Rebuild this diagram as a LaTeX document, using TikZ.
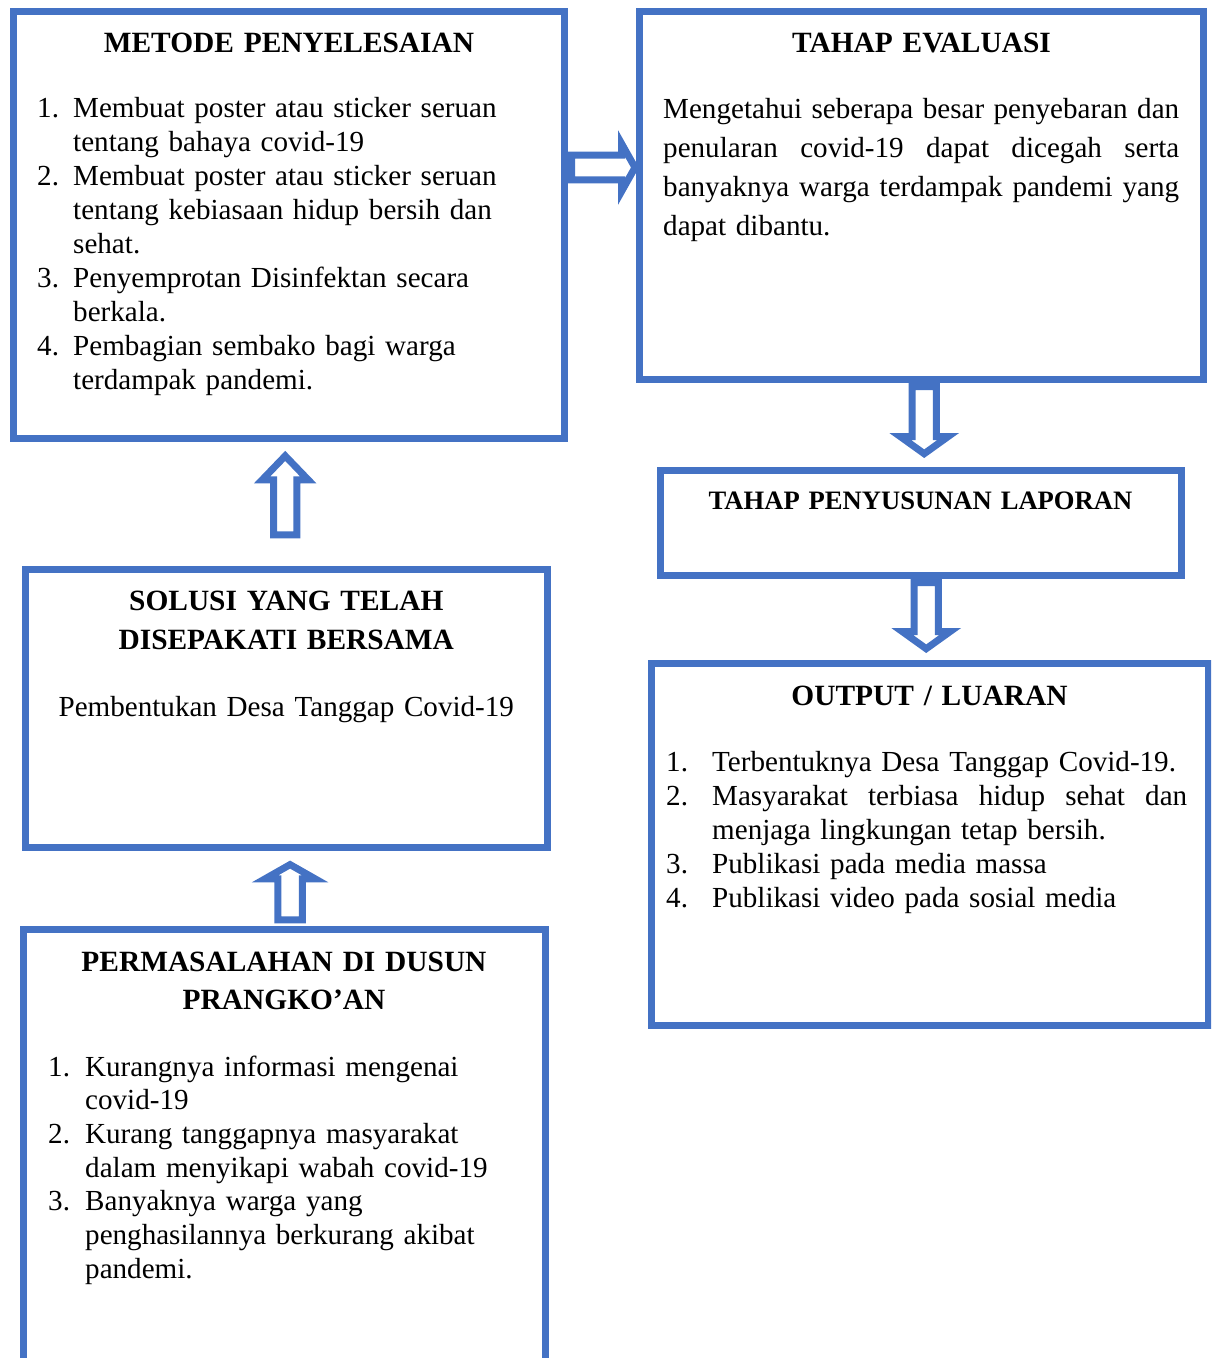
\documentclass[tikz,border=0pt]{standalone}
\usepackage{fontspec}
\setmainfont{Liberation Serif}
\usetikzlibrary{calc}
\definecolor{bblue}{HTML}{4472C4}
\newlength\lind
\newcommand\lnum[1]{\makebox[\lind][l]{#1}}
\newcommand\lcont{\hspace*{\lind}}
\newcommand\just[2]{\makebox[#1][s]{\spaceskip=0.25em plus 1fil\relax #2}}
\newcommand\varrow[5]{\draw[blockarrow] ($(#1)+(-#3,0)$) -- ($(#2)+(-#3,#5)$) -- ($(#2)+(-#4,#5)$) -- (#2) -- ($(#2)+(#4,#5)$) -- ($(#2)+(#3,#5)$) -- ($(#1)+(#3,0)$) -- cycle;}
\begin{document}
\begin{tikzpicture}[x=1pt,y=-1pt,
  box/.style={draw=bblue, line width=7pt, rectangle, inner sep=0pt, outer sep=0pt, anchor=north west},
  blockarrow/.style={draw=bblue, fill=white, line width=7pt, line join=miter, miter limit=20},
  head/.style={font=\fontsize{29.4}{39}\selectfont\bfseries, anchor=base, inner sep=0pt, text width=540pt, align=center},
  body/.style={font=\fontsize{29.1}{34}\selectfont, anchor=base west, inner sep=0pt, text width=540pt, align=left},
]
\useasboundingbox (0,0) rectangle (1211,1358);
\clip (0,0) rectangle (1211,1358);

% boxes
\node[box, minimum width=551pt, minimum height=427pt] (met) at (13.5,11.5) {};
\node[box, minimum width=564pt, minimum height=368pt] (eva) at (639.5,11.5) {};
\node[box, minimum width=521pt, minimum height=105.5pt] (lap) at (660,470) {};
\node[box, minimum width=557pt, minimum height=362pt] (out) at (651,663.5) {};
\node[box, minimum width=521.4pt, minimum height=277.5pt] (sol) at (25.6,569.5) {};
\node[box, minimum width=522pt, minimum height=450pt] (mas) at (23,929.5) {};

% METODE
\node[head] (metH) at ($(met.north)+(0,40.5)$) {METODE PENYELESAIAN};
\node[body] (metL) at ($(met.north west)+(23.5,105.5)$) {\setlength\lind{36pt}%
\lnum{1.}Membuat poster atau sticker seruan\\
\lcont tentang bahaya covid-19\\
\lnum{2.}Membuat poster atau sticker seruan\\
\lcont tentang kebiasaan hidup bersih dan\\
\lcont sehat.\\
\lnum{3.}Penyemprotan Disinfektan secara\\
\lcont berkala.\\
\lnum{4.}Pembagian sembako bagi warga\\
\lcont terdampak pandemi.};

% EVALUASI
\node[head] (evaH) at ($(eva.north)+(0,40.5)$) {TAHAP EVALUASI};
\node[body, font=\fontsize{29.1}{39}\selectfont] (evaP) at ($(eva.north west)+(23.5,106.5)$) {%
\just{516pt}{Mengetahui seberapa besar penyebaran dan}\\
\just{516pt}{penularan covid-19 dapat dicegah serta}\\
\just{516pt}{banyaknya warga terdampak pandemi yang}\\
dapat dibantu.};

% LAPORAN
\node[head, font=\fontsize{26.6}{32}\selectfont\bfseries] (lapH) at ($(lap.north)+(0,39)$) {TAHAP PENYUSUNAN LAPORAN};

% OUTPUT
\node[head] (outH) at ($(out.north)+(0,41.5)$) {OUTPUT / LUARAN};
\node[body] (outL) at ($(out.north west)+(15,107.5)$) {\setlength\lind{46pt}%
\lnum{1.}Terbentuknya Desa Tanggap Covid-19.\\
\lnum{2.}\just{475pt}{Masyarakat terbiasa hidup sehat dan}\\
\lcont menjaga lingkungan tetap bersih.\\
\lnum{3.}Publikasi pada media massa\\
\lnum{4.}Publikasi video pada sosial media};

% SOLUSI
\node[head] (solH) at ($(sol.north)+(0,40.5)$) {SOLUSI YANG TELAH\\DISEPAKATI BERSAMA};
\node[head, font=\fontsize{29.1}{34}\selectfont] (solB) at ($(sol.north)+(0,146.5)$) {Pembentukan Desa Tanggap Covid-19};

% PERMASALAHAN
\node[head, font=\fontsize{29.4}{38}\selectfont\bfseries] (masH) at ($(mas.north)+(0,41.5)$) {PERMASALAHAN DI DUSUN\\PRANGKO’AN};
\node[body, font=\fontsize{29.1}{33.7}\selectfont] (masL) at ($(mas.north west)+(25,146.5)$) {\setlength\lind{37pt}%
\lnum{1.}Kurangnya informasi mengenai\\
\lcont covid-19\\
\lnum{2.}Kurang tanggapnya masyarakat\\
\lcont dalam menyikapi wabah covid-19\\
\lnum{3.}Banyaknya warga yang\\
\lcont penghasilannya berkurang akibat\\
\lcont pandemi.};

% arrows
% right arrow met -> eva
\path (met.north east) ++(7,156) coordinate (ra);
\path (eva.north west) ++(-4.5,156) coordinate (rb);
\draw[blockarrow] ($(ra)+(0,-12.3)$) -- ($(rb)+(-13.5,-12.3)$) -- ($(rb)+(-13.5,-24)$) -- (rb)
  -- ($(rb)+(-13.5,24)$) -- ($(rb)+(-13.5,12.3)$) -- ($(ra)+(0,12.3)$) -- cycle;
% up arrow sol -> met
\path (sol.north) ++(-1.1,-34.7) coordinate (u1b);
\path (met.south -| u1b) ++(0,17.4) coordinate (u1t);
\varrow{u1b}{u1t}{11.7}{23}{23.9}
% up arrow mas -> sol
\path (mas.north) ++(6.1,-9.7) coordinate (u2b);
\path (sol.south -| u2b) ++(0,17.6) coordinate (u2t);
\varrow{u2b}{u2t}{12.2}{25}{14.2}
% down arrow eva -> lap
\path (eva.south) ++(2.7,7) coordinate (d1b);
\path (lap.north -| d1b) ++(0,-16.3) coordinate (d1t);
\varrow{d1b}{d1t}{12.1}{24}{-17.2}
% down arrow lap -> out
\path (lap.south) ++(5.7,7) coordinate (d2b);
\path (out.north -| d2b) ++(0,-14.8) coordinate (d2t);
\varrow{d2b}{d2t}{12.1}{24}{-17.2}
\end{tikzpicture}
\end{document}
